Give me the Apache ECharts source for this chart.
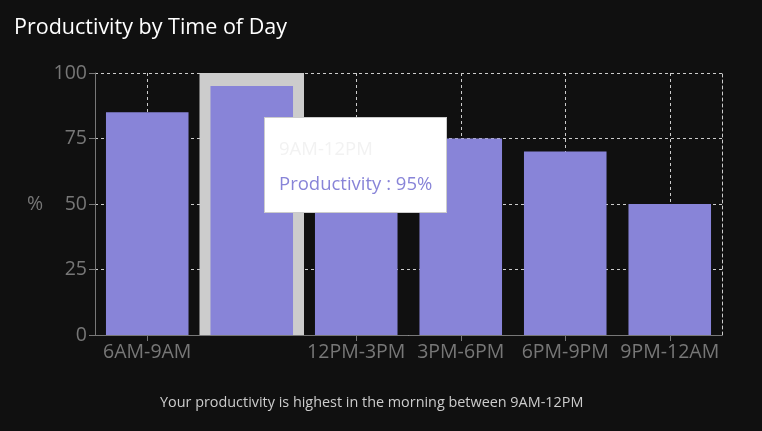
<!DOCTYPE html>
<html>
<head>
<meta charset="utf-8">
<script src="https://cdn.jsdelivr.net/npm/echarts@6/dist/echarts.min.js"></script>
<style>
  html, body { margin:0; padding:0; background:#101010; }
  #chart { width:762px; height:431px; }
</style>
</head>
<body>
<div id="chart"></div>
<script>
const categories = ['6AM-9AM', '9AM-12PM', '12PM-3PM', '3PM-6PM', '6PM-9PM', '9PM-12AM'];
const productivity = [85, 95, 80, 75, 70, 50];
const yTicks = [0, 25, 50, 75, 100];
const seriesName = 'Productivity';
const titleText = 'Productivity by Time of Day';
const footerText = 'Your productivity is highest in the morning between 9AM-12PM';
const highlightIndex = 1;

const FONT = '"Open Sans", "Noto Sans", sans-serif';
const chart = echarts.init(document.getElementById('chart'));
const showLabel = (i) => i !== highlightIndex;

chart.setOption({
  backgroundColor: '#101010',
  animation: false,
  textStyle: { fontFamily: FONT },
  title: [
    { text: titleText, left: 9, top: 12,
      textStyle: { color: '#ffffff', fontSize: 21.5, fontWeight: 'normal', fontFamily: FONT } },
    { text: footerText, left: 155, top: 391,
      textStyle: { color: '#cccccc', fontSize: 14.4, fontWeight: 'normal', fontFamily: FONT } }
  ],
  grid: { left: 95, right: 40, top: 73, bottom: 96, containLabel: false },
  tooltip: {
    trigger: 'axis',
    alwaysShowContent: true,
    transitionDuration: 0,
    position: [264, 117],
    padding: 0,
    borderWidth: 1,
    borderColor: '#cccccc',
    borderRadius: 0,
    backgroundColor: '#ffffff',
    extraCssText: 'box-shadow:none;',
    axisPointer: { type: 'shadow', z: 1, shadowStyle: { color: '#cccccc', opacity: 1 } },
    formatter: (params) => {
      const p = params[0];
      return '<div style="width:167px;height:74px;padding:20px 0 0 14px;font-family:' + FONT.replace(/"/g, "'") + ';font-size:18.5px;white-space:nowrap;">' +
        '<div style="line-height:20px;color:#f2f2f2;">' + p.name + '</div>' +
        '<div style="line-height:20px;margin-top:15px;color:#8884d8;">' + p.seriesName + ' : ' + p.value + '%</div>' +
        '</div>';
    }
  },
  xAxis: {
    type: 'category',
    data: categories,
    axisLine: { show: true, lineStyle: { color: '#777777', width: 1 } },
    axisTick: { show: true, alignWithLabel: true, length: 6, interval: showLabel, lineStyle: { color: '#777777' } },
    axisLabel: { color: '#777777', fontSize: 19.5, margin: 7, interval: showLabel, fontFamily: FONT },
    splitLine: { show: true, alignWithLabel: true, interval: 0, lineStyle: { color: '#cccccc', type: [3, 3], width: 1 } }
  },
  yAxis: [
    {
      type: 'value',
      min: yTicks[0], max: yTicks[yTicks.length - 1], interval: 25,
      name: '%', nameLocation: 'middle', nameGap: 52, nameRotate: 0,
      nameTextStyle: { color: '#777777', fontSize: 19.5, fontFamily: FONT },
      axisLine: { show: true, lineStyle: { color: '#777777', width: 1 } },
      axisTick: { show: true, length: 6, lineStyle: { color: '#777777' } },
      axisLabel: { color: '#777777', fontSize: 19.5, margin: 8, fontFamily: FONT },
      splitLine: { show: true, lineStyle: { color: '#cccccc', type: [3, 3], width: 1 } }
    },
    {
      type: 'value', position: 'right',
      min: yTicks[0], max: yTicks[yTicks.length - 1], interval: 25,
      axisLine: { show: true, lineStyle: { color: '#cccccc', type: [3, 3], width: 1 } },
      axisTick: { show: false }, axisLabel: { show: false }, splitLine: { show: false }
    }
  ],
  series: [{
    name: seriesName,
    type: 'bar',
    data: productivity,
    barCategoryGap: '21%',
    itemStyle: { color: '#8884d8' },
    emphasis: { disabled: true },
    z: 2
  }]
});

chart.dispatchAction({ type: 'showTip', seriesIndex: 0, dataIndex: highlightIndex });
</script>
</body>
</html>
